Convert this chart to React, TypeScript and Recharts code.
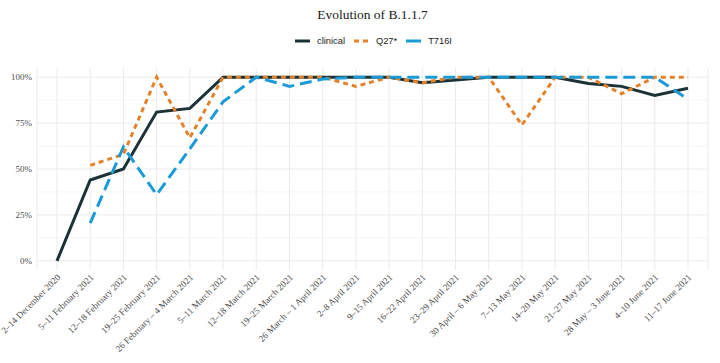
import React from 'react';
import { LineChart, Line, XAxis, YAxis, CartesianGrid, Legend } from 'recharts';

const categories = [
  '2–14 December 2020',
  '5–11 February 2021',
  '12–18 February 2021',
  '19–25 February 2021',
  '26 February – 4 March 2021',
  '5–11 March 2021',
  '12–18 March 2021',
  '19–25 March 2021',
  '26 March – 1 April 2021',
  '2–8 April 2021',
  '9–15 April 2021',
  '16–22 April 2021',
  '23–29 April 2021',
  '30 April – 6 May 2021',
  '7–13 May 2021',
  '14–20 May 2021',
  '21–27 May 2021',
  '28 May – 3 June 2021',
  '4–10 June 2021',
  '11–17 June 2021',
];

const clinical = [0, 44, 50, 81, 83, 100, 100, 100, 100, 100, 100, 97, 98.4, 100, 100, 100, 96.6, 95, 90, 94];
const q27 = [null, 52, 58, 100, 67, 100, 100, 100, 100, 95, 100, 97, 100, 100, 74, 100, 100, 91, 100, 100];
const t716i = [null, 20.5, 62, 36, 61, 86.6, 100, 95, 99, 100, 100, 100, 100, 100, 100, 100, 100, 100, 100, 88];

const yTicks = [0, 25, 50, 75, 100];
const yMinor = [12.5, 37.5, 62.5, 87.5];

const seriesMeta = [
  { key: 'clinical', name: 'clinical', color: '#1b3237', dash: undefined as string | undefined },
  { key: 'q27', name: 'Q27*', color: '#e3822a', dash: '5 4' },
  { key: 't716i', name: 'T716I', color: '#1a9ad6', dash: '12 6' },
];

const data = categories.map((c, i) => ({
  cat: c,
  clinical: clinical[i],
  q27: q27[i],
  t716i: t716i[i],
}));

const XTick = (props: any) => {
  const { x, y, payload } = props;
  return (
    <g transform={`translate(${x + 4},${y + 8}) rotate(-45)`}>
      <text
        x={0}
        y={0}
        textAnchor="end"
        fontFamily="'Liberation Serif', 'Times New Roman', serif"
        fontSize={9.2}
        fill="#4d4d4d"
      >
        {payload.value}
      </text>
    </g>
  );
};

const LegendContent = () => (
  <div
    style={{
      display: 'flex',
      justifyContent: 'center',
      alignItems: 'center',
      fontFamily: "'Liberation Sans', Arial, sans-serif",
      fontSize: 9.3,
      color: '#1a1a1a',
      paddingLeft: 36,
    }}
  >
    {seriesMeta.map((s) => (
      <div key={s.key} style={{ display: 'flex', alignItems: 'center', marginRight: 9 }}>
        <svg width={15} height={8} style={{ marginRight: 7 }}>
          <line
            x1={0}
            y1={4}
            x2={15}
            y2={4}
            stroke={s.color}
            strokeWidth={3}
            strokeDasharray={s.key === 'q27' ? '5 4' : undefined}
          />
        </svg>
        <span>{s.name}</span>
      </div>
    ))}
  </div>
);

export default function App() {
  return (
    <div style={{ position: 'absolute', left: 0, top: 0, width: 720, height: 363, background: '#fff' }}>
      <div
        style={{
          position: 'absolute',
          left: 37,
          width: 671,
          top: 7,
          textAlign: 'center',
          fontFamily: "'Liberation Serif', 'Times New Roman', serif",
          fontSize: 13.5,
          color: '#1a1a1a',
          lineHeight: '16px',
        }}
      >
        Evolution of B.1.1.7
      </div>
      <LineChart width={720} height={363} data={data} margin={{ top: 68, right: 12, left: 0, bottom: 0 }}>
        <CartesianGrid
          horizontalValues={yMinor}
          vertical={false}
          stroke="#f3f3f3"
          strokeWidth={0.8}
        />
        <CartesianGrid horizontalValues={yTicks} stroke="#ebebeb" strokeWidth={1} />
        <XAxis
          dataKey="cat"
          interval={0}
          padding={{ left: 20, right: 20 }}
          height={93}
          tickLine={false}
          axisLine={false}
          tickSize={0}
          tickMargin={0}
          tick={<XTick />}
        />
        <YAxis
          width={37}
          domain={[-5, 105]}
          ticks={yTicks}
          allowDataOverflow
          tickFormatter={(v: number) => `${v}%`}
          axisLine={false}
          tickLine={false}
          tickSize={0}
          tickMargin={5}
          tick={{ fontFamily: "'Liberation Serif', 'Times New Roman', serif", fontSize: 9, fill: '#4d4d4d' }}
        />
        <Legend
          layout="vertical"
          align="center"
          verticalAlign="middle"
          wrapperStyle={{ top: 36, left: 0, width: 720 }}
          content={<LegendContent />}
        />
        {seriesMeta.map((s) => (
          <Line
            key={s.key}
            type="linear"
            dataKey={s.key}
            name={s.name}
            stroke={s.color}
            strokeWidth={3}
            strokeDasharray={s.dash}
            dot={false}
            activeDot={false}
            isAnimationActive={false}
          />
        ))}
      </LineChart>
    </div>
  );
}
